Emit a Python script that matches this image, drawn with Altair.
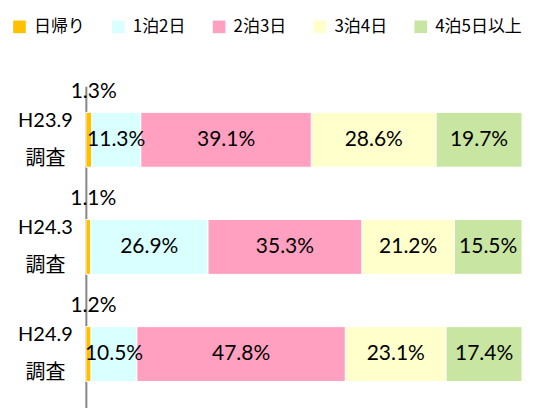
import altair as alt
import pandas as pd

surveys = ["H23.9\n調査", "H24.3\n調査", "H24.9\n調査"]
categories = ["日帰り", "1泊2日", "2泊3日", "3泊4日", "4泊5日以上"]
colors = ["#FFC000", "#D9FFFF", "#FFA0C0", "#FFFFCC", "#C8E6A2"]
values_h23_9 = [1.3, 11.3, 39.1, 28.6, 19.7]
values_h24_3 = [1.1, 26.9, 35.3, 21.2, 15.5]
values_h24_9 = [1.2, 10.5, 47.8, 23.1, 17.4]

rows = []
for s, vals in zip(surveys, [values_h23_9, values_h24_3, values_h24_9]):
    for i, (c, v) in enumerate(zip(categories, vals)):
        rows.append({"survey": s, "cat": c, "value": v, "order": i})
df = pd.DataFrame(rows)

FONT = "Lato, Noto Sans CJK JP"

base = alt.Chart(df).transform_stack(
    stack="value", groupby=["survey"], sort=[alt.SortField("order")], as_=["x0", "x1"]
).transform_calculate(
    mid="(datum.x0 + datum.x1) / 2",
    label="format(datum.value, '.1f') + '%'",
)

yenc = alt.Y(
    "survey:N",
    sort=surveys,
    scale=alt.Scale(paddingInner=0.488, paddingOuter=0.244),
    axis=alt.Axis(
        title=None,
        labelExpr="split(datum.label, '\\n')",
        labelAlign="center",
        labelBaseline="middle",
        labelPadding=41,
        labelLineHeight=38,
        labelOffset=-19,
        labelFont=FONT,
        labelFontSize=20,
        labelColor="#000000",
        ticks=False,
        tickSize=0,
        domainColor="#868686",
        domainWidth=2,
        grid=False,
    ),
)

bars = base.mark_bar(stroke="white", strokeWidth=1).encode(
    x=alt.X("x0:Q", scale=alt.Scale(domain=[0, 100]), axis=None),
    x2="x1:Q",
    y=yenc,
    color=alt.Color(
        "cat:N",
        scale=alt.Scale(domain=categories, range=colors),
        legend=alt.Legend(
            title=None,
            orient="none",
            legendX=-75,
            legendY=-68,
            direction="horizontal",
            columns=5,
            gridAlign="none",
            columnPadding=25,
            symbolType="square",
            symbolSize=160,
            symbolStrokeWidth=0,
            labelOffset=6,
            labelFont="Noto Sans CJK JP",
            labelFontSize=17,
            labelColor="#000000",
            labelLimit=300,
            padding=0,
        ),
    ),
)

inner = base.transform_filter("datum.order > 0").mark_text(
    font=FONT, fontSize=21, color="#000000", baseline="middle", align="center"
).encode(
    x=alt.X("mid:Q", scale=alt.Scale(domain=[0, 100]), axis=None),
    y=alt.Y("survey:N", sort=surveys),
    text="label:N",
)

outer = base.transform_filter("datum.order == 0").mark_text(
    font=FONT, fontSize=21, color="#000000", baseline="middle", align="center", dx=5, dy=-48
).encode(
    x=alt.X("mid:Q", scale=alt.Scale(domain=[0, 100]), axis=None),
    y=alt.Y("survey:N", sort=surveys),
    text="label:N",
)

chart = alt.layer(bars, inner, outer).properties(
    width=437,
    height=322,
    autosize="none",
    padding={"left": 78, "top": 78, "right": 10, "bottom": 0},
).configure_view(stroke=None).configure_legend(
    labelFontSize=17, labelFont="Noto Sans CJK JP", labelColor="#000000"
)

chart.save("out.html", embed_options={"renderer": "svg", "actions": False})
